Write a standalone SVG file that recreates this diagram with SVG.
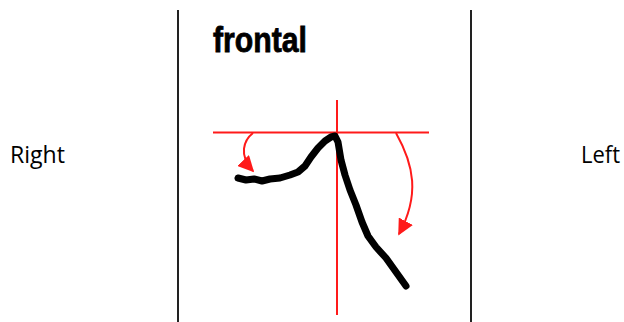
<svg xmlns="http://www.w3.org/2000/svg" width="624" height="322" viewBox="0 0 624 322">
<style>
.lbl{font-family:"Open Sans","Liberation Sans",sans-serif;font-size:24px;fill:#000}
.frame{stroke:#222;stroke-width:2;fill:none}
.red{stroke:#ff1a1a;stroke-width:2;fill:none}
.trace{stroke:#000;stroke-width:7;fill:none;stroke-linejoin:round;stroke-linecap:round}
</style>
<defs>
<marker id="ah2" viewBox="0 0 10 10" refX="9" refY="5" markerWidth="16" markerHeight="16" orient="auto" markerUnits="userSpaceOnUse">
<path d="M0,0 L10,5 L0,10 z" fill="#ff1a1a"/>
</marker>
</defs>
<rect width="624" height="322" fill="#fff"/>
<text class="lbl" x="10" y="163" textLength="55" lengthAdjust="spacingAndGlyphs">Right</text>
<text class="lbl" x="581" y="163" textLength="39" lengthAdjust="spacingAndGlyphs">Left</text>
<line class="frame" x1="178" y1="10" x2="178" y2="322"/>
<line class="frame" x1="471" y1="10" x2="471" y2="322"/>
<text x="213" y="52" font-family="'Liberation Sans',Arial,sans-serif" font-weight="bold" font-size="35" stroke="#000" stroke-width="0.8" textLength="94" lengthAdjust="spacingAndGlyphs">frontal</text>
<g id="axes">
<line class="red" x1="213" y1="132.5" x2="429" y2="132.5"/>
<line class="red" x1="337" y1="100" x2="337" y2="315"/>
</g>
<g id="trace">
<path class="trace" d="M238,178 L246,180 L254,179 L262,181 L270,179 L280,178 L290,175 L298,172 L305,166 L311,157 L318,148 L325,141 L331,137 L335,136 L338,142 L341,160 L345,175 L350,190 L356,205 L362,222 L368,236 L376,247 L386,258 L396,272 L406,286"/>
</g>
<g id="connectors">
<path class="red" d="M253,133 C244,140 238,155 253,171" marker-end="url(#ah2)"/>
<path class="red" d="M396,133 C414,165 420,195 399,234" marker-end="url(#ah2)"/>
</g>
</svg>
